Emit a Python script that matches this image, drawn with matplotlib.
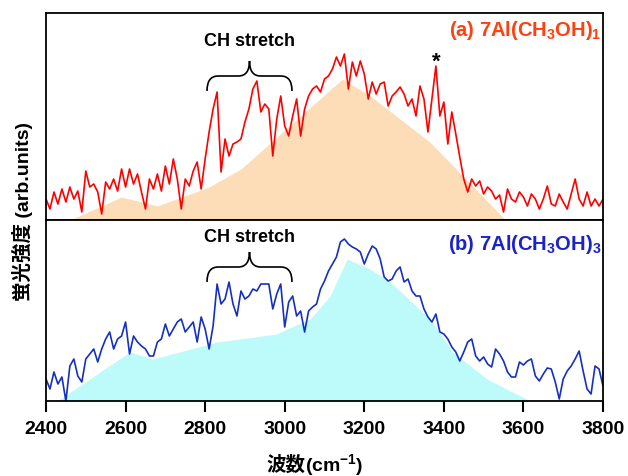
import numpy as np
import matplotlib
matplotlib.use("Agg")
from matplotlib import pyplot as plt
from matplotlib.path import Path
from matplotlib.patches import PathPatch

plt.rcParams['font.family'] = ['Liberation Sans', 'Noto Sans CJK JP', 'DejaVu Sans']
plt.rcParams['font.weight'] = 'bold'
plt.rcParams['mathtext.fontset'] = 'custom'
plt.rcParams['mathtext.bf'] = 'Liberation Sans:bold'
plt.rcParams['mathtext.rm'] = 'Liberation Sans:bold'
plt.rcParams['mathtext.default'] = 'bf'

# wavenumber grid (cm-1)
wavenumber = list(range(2400, 3801, 10))

# (a) 7Al(CH3OH)1 spectrum, arb. units
spec_a = [21, 11, 28, 16, 31, 18, 33, 21, 29, 8, 49, 33, 36, 28, 6, 38, 31, 41, 29, 51,
          33, 51, 36, 46, 28, 11, 41, 31, 46, 29, 54, 36, 61, 41, 11, 41, 34, 49, 58, 31,
          61, 88, 111, 128, 48, 81, 64, 76, 78, 81, 98, 111, 131, 139, 108, 116, 111, 64, 101, 124,
          94, 84, 104, 121, 84, 111, 124, 131, 134, 128, 141, 144, 151, 163, 154, 166, 131, 158, 144, 159,
          146, 121, 138, 126, 136, 138, 114, 124, 128, 133, 126, 114, 121, 104, 134, 121, 88, 121, 154, 104,
          118, 76, 108, 86, 63, 41, 28, 41, 34, 39, 26, 33, 29, 21, 25, 8, 31, 21, 18, 28,
          23, 14, 26, 21, 11, 21, 34, 16, 14, 26, 18, 11, 26, 41, 21, 14, 28, 14, 21, 14, 21]

# (b) 7Al(CH3OH)3 spectrum, arb. units
spec_b = [22, 12, 29, 17, 24, 0, 35, 42, 25, 19, 42, 47, 52, 39, 52, 62, 69, 52, 62, 65,
          79, 47, 65, 59, 55, 52, 45, 45, 59, 62, 77, 65, 72, 79, 82, 69, 74, 79, 59, 84,
          72, 52, 75, 117, 97, 102, 119, 97, 85, 110, 102, 105, 112, 110, 117, 117, 117, 92, 107, 117,
          74, 99, 105, 85, 90, 69, 90, 94, 97, 112, 120, 130, 137, 144, 159, 162, 157, 154, 152, 149,
          137, 147, 155, 152, 142, 124, 120, 122, 130, 134, 119, 122, 110, 105, 105, 92, 84, 79, 87, 69,
          67, 62, 54, 49, 40, 49, 59, 62, 45, 40, 44, 37, 34, 52, 47, 40, 29, 24, 24, 39,
          36, 40, 42, 25, 20, 27, 33, 32, 19, 2, 22, 30, 35, 42, 50, 30, 12, 7, 35, 32, 15]

# background components (shaded)
bg_a_x = [2400, 2460, 2590, 2680, 2810, 2890, 3145, 3215, 3365, 3555, 3800]
bg_a_y = [0, 0, 23, 14, 33, 51, 141, 124, 78, 0, 0]
bg_b_x = [2400, 2428, 2611, 2669, 2830, 2981, 3006, 3064, 3114, 3157, 3214, 3265, 3365, 3423, 3508, 3617, 3800]
bg_b_y = [0, 0, 49, 42, 59, 67, 72, 82, 105, 142, 132, 119, 82, 49, 22, 0, 0]

xticks = [2400, 2600, 2800, 3000, 3200, 3400, 3600, 3800]


def brace(ax, x0, x1, ybase, h):
    """ curly brace in axes fraction coords """
    xm = (x0 + x1) / 2
    r = 0.02
    verts = [(xm, ybase + h), (xm, ybase), (xm - r, ybase),
             (x0 + r, ybase), (x0, ybase), (x0, ybase - h),
             (xm, ybase + h), (xm, ybase), (xm + r, ybase),
             (x1 - r, ybase), (x1, ybase), (x1, ybase - h)]
    codes = [Path.MOVETO, Path.CURVE3, Path.CURVE3,
             Path.LINETO, Path.CURVE3, Path.CURVE3,
             Path.MOVETO, Path.CURVE3, Path.CURVE3,
             Path.LINETO, Path.CURVE3, Path.CURVE3]
    ax.add_patch(PathPatch(Path(verts, codes), fill=False, lw=1.2, color="black",
                           transform=ax.transAxes, clip_on=False))


fig = plt.figure(figsize=(6.28, 4.77), dpi=100)
L, R = 46 / 628, 603 / 628
ax1 = fig.add_axes([L, 1 - 221 / 477, R - L, 207 / 477])
ax2 = fig.add_axes([L, 1 - 402 / 477, R - L, 181 / 477])

ax1.fill_between(bg_a_x, bg_a_y, 0, color="#fddcb8", lw=0)
ax1.plot(wavenumber, spec_a, color="#ff0000", lw=1.2)
ax2.fill_between(bg_b_x, bg_b_y, 0, color="#bdfafa", lw=0)
ax2.plot(wavenumber, spec_b, color="#1530c0", lw=1.2)

for ax, top in ((ax1, 207), (ax2, 181)):
    ax.set_xlim(2400, 3800)
    ax.set_ylim(0, top)
    ax.set_yticks([])
    for s in ax.spines.values():
        s.set_linewidth(1.3)

ax1.set_xticks([])
ax2.set_xticks(xticks)
ax2.set_xticklabels([str(t) for t in xticks], fontsize=14, fontweight="bold")
ax2.tick_params(axis="x", direction="out", length=8, width=1.5, pad=6)

# annotations
ax1.text(0.366, (221 - 42) / 207, "CH stretch", transform=ax1.transAxes,
         ha="center", va="center", fontsize=13, fontweight="bold")
brace(ax1, (207 - 46) / 557, (292 - 46) / 557, (221 - 77) / 207, 15 / 207)
ax2.text(0.366, (402 - 238) / 181, "CH stretch", transform=ax2.transAxes,
         ha="center", va="center", fontsize=13, fontweight="bold")
brace(ax2, (207 - 46) / 557, (292 - 46) / 557, (402 - 268) / 181, 15 / 181)

ax1.text(0.997, (221 - 30) / 207, r"(a) 7Al(CH$_3$OH)$_1$", transform=ax1.transAxes,
         ha="right", va="center", fontsize=14.5, fontweight="bold", color="#ff4010")
ax2.text(0.997, (402 - 245) / 181, r"(b) 7Al(CH$_3$OH)$_3$", transform=ax2.transAxes,
         ha="right", va="center", fontsize=14.5, fontweight="bold", color="#1a22cc")
ax1.text(3380, 221 - 62, "*", ha="center", va="center", fontsize=16, fontweight="bold")

fig.text(22 / 628, 1 - 212 / 477, "蛍光強度 (arb.units)", rotation=90, ha="center", va="center",
         fontsize=14, fontweight="bold")
fig.text(305 / 628, 1 - 465 / 477, "波数", ha="right", va="center",
         fontsize=14, fontweight="bold")
fig.text(305 / 628, 1 - 465 / 477, r"(cm$^{-1}$)", ha="left", va="center",
         fontsize=14, fontweight="bold")

fig.savefig("out.png", dpi=100)
